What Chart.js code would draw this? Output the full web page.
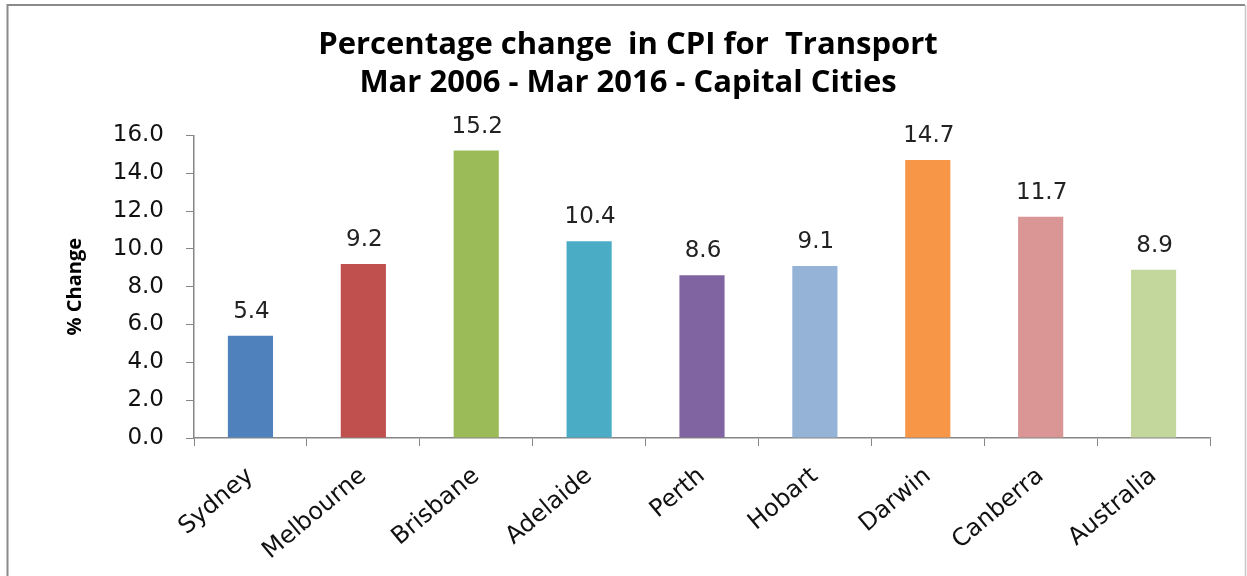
<!DOCTYPE html>
<html>
<head>
<meta charset="utf-8">
<title>Percentage change in CPI for Transport</title>
<script src="https://cdn.jsdelivr.net/npm/chart.js@4/dist/chart.umd.min.js"></script>
<style>
  html, body { margin: 0; padding: 0; background: #fff; overflow: hidden; }
  #wrap { position: relative; width: 1247px; height: 576px; }
</style>
</head>
<body>
<div id="wrap"><canvas id="cpiChart"></canvas></div>
<script>
var cities = ["Sydney", "Melbourne", "Brisbane", "Adelaide", "Perth", "Hobart", "Darwin", "Canberra", "Australia"];
var pctChange = [5.4, 9.2, 15.2, 10.4, 8.6, 9.1, 14.7, 11.7, 8.9];
var barColours = ["#4F81BD", "#C0504D", "#9BBB59", "#4BACC6", "#8064A2", "#95B3D7", "#F79646", "#D99694", "#C3D69B"];
var yTicks = [0, 2, 4, 6, 8, 10, 12, 14, 16];

var axisGrey = "#868686";
var tickFont = { family: "'DejaVu Sans', Verdana, sans-serif", size: 23 };
var catFont = { family: "'DejaVu Sans', Verdana, sans-serif", size: 24 };

// white page with the grey frame round the chart
var frame = {
    id: 'frame',
    beforeDraw: function (chart) {
        var ctx = chart.ctx;
        ctx.save();
        ctx.fillStyle = "#fff";
        ctx.fillRect(0, 0, chart.width, chart.height);
        ctx.strokeStyle = "#8a8a8a";
        ctx.lineWidth = 2;
        ctx.beginPath();
        ctx.moveTo(7.5, chart.height);
        ctx.lineTo(7.5, 5);
        ctx.lineTo(1245, 5);
        ctx.stroke();
        ctx.strokeStyle = "#c8c8c8";
        ctx.lineWidth = 1.5;
        ctx.beginPath();
        ctx.moveTo(1245.5, 5);
        ctx.lineTo(1245.5, chart.height);
        ctx.stroke();
        ctx.restore();
    }
};

// value written above each bar
var barValues = {
    id: 'barValues',
    afterDatasetsDraw: function (chart) {
        var ctx = chart.ctx;
        var meta = chart.getDatasetMeta(0);
        ctx.save();
        ctx.font = tickFont.size + "px " + tickFont.family;
        ctx.fillStyle = "#222";
        ctx.textAlign = "center";
        ctx.textBaseline = "alphabetic";
        meta.data.forEach(function (bar, i) {
            ctx.fillText(pctChange[i].toFixed(1), bar.x + 1, bar.y - 18);
        });
        ctx.restore();
    }
};

var ctx = document.getElementById("cpiChart").getContext('2d');
var cpiChart = new Chart(ctx, {
    type: 'bar',
    data: {
        labels: cities,
        datasets: [{
            data: pctChange,
            backgroundColor: barColours,
            borderWidth: 0,
            barPercentage: 0.8,
            categoryPercentage: 0.5
        }]
    },
    options: {
        responsive: true,
        maintainAspectRatio: false,
        animation: false,
        layout: { padding: { left: 46, right: 37, top: 0, bottom: 0 } },
        plugins: {
            legend: { display: false },
            tooltip: { enabled: false },
            title: {
                display: true,
                text: ["Percentage change  in CPI for  Transport", "Mar 2006 - Mar 2016 - Capital Cities"],
                color: "#000",
                font: { family: "'Open Sans', sans-serif", size: 31, weight: 'bold', lineHeight: 1.2 },
                padding: { top: 27, bottom: 34 }
            }
        },
        scales: {
            x: {
                grid: {
                    display: true,
                    drawOnChartArea: false,
                    color: axisGrey,
                    tickLength: 8,
                    offset: true
                },
                border: { color: axisGrey, width: 1.5 },
                ticks: {
                    color: "#111",
                    font: catFont,
                    maxRotation: 40,
                    minRotation: 40,
                    padding: 16
                },
                afterFit: function (scale) { scale.height = 138; }
            },
            y: {
                min: 0,
                max: 16,
                afterBuildTicks: function (scale) {
                    scale.ticks = yTicks.map(function (v) { return { value: v }; });
                },
                grid: {
                    display: true,
                    drawOnChartArea: false,
                    color: axisGrey,
                    tickLength: 8
                },
                border: { color: axisGrey, width: 1.5 },
                ticks: {
                    color: "#111",
                    font: tickFont,
                    padding: 22,
                    callback: function (v) { return Number(v).toFixed(1); }
                },
                title: {
                    display: true,
                    text: "% Change",
                    color: "#000",
                    font: { family: "'Open Sans', sans-serif", size: 20, weight: 'bold', lineHeight: 1.2 },
                    padding: { top: 17, bottom: 0 }
                },
                afterFit: function (scale) { scale.width = 148; }
            }
        }
    },
    plugins: [frame, barValues]
});
</script>
</body>
</html>
